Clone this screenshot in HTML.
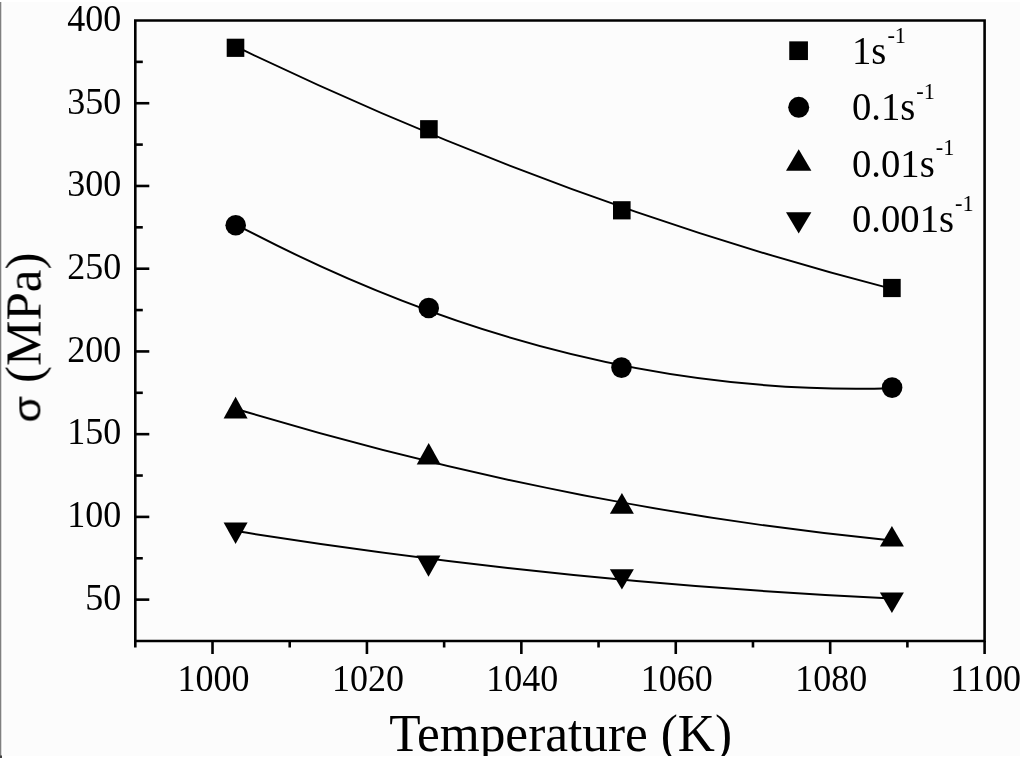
<!DOCTYPE html>
<html><head><meta charset="utf-8"><style>
html,body{margin:0;padding:0;background:#fff;}
svg{display:block;} text{will-change:transform;}
.t{font-family:"Liberation Serif",serif;font-size:36px;fill:#000;}
.tt{font-family:"Liberation Serif",serif;font-size:52px;fill:#000;}
.sig{font-family:"Liberation Sans",sans-serif;fill:#000;}
.lg{font-family:"Liberation Serif",serif;font-size:38px;fill:#000;}
.sup{font-size:22px;}
</style></head><body>
<svg width="1024" height="762" viewBox="0 0 1024 762">
<rect x="0" y="0" width="1024" height="762" fill="#fff"/>
<rect x="3.3" y="2" width="1016.7" height="754" fill="#fcfcfc"/>
<rect x="0" y="2" width="1.3" height="756" fill="#808080"/>
<rect x="0" y="755.5" width="2" height="2.5" fill="#404040"/>
<path d="M235.60,46.47 Q563.75,204.51 891.90,288.82" fill="none" stroke="#000" stroke-width="1.95"/>
<path d="M235.60,224.33 Q563.75,398.19 891.90,388.18" fill="none" stroke="#000" stroke-width="1.95"/>
<path d="M235.60,408.74 Q563.75,508.11 891.90,540.56" fill="none" stroke="#000" stroke-width="1.95"/>
<path d="M235.60,531.08 Q563.75,583.12 891.90,598.45" fill="none" stroke="#000" stroke-width="1.95"/>
<rect x="226.70" y="38.70" width="17.6" height="18.2" fill="#000"/>
<rect x="420.10" y="120.15" width="17.6" height="18.2" fill="#000"/>
<rect x="613.00" y="201.20" width="17.6" height="18.2" fill="#000"/>
<rect x="883.10" y="278.90" width="17.6" height="18.2" fill="#000"/>
<circle cx="235.7" cy="225.3" r="10.3" fill="#000"/>
<circle cx="428.75" cy="308" r="10.3" fill="#000"/>
<circle cx="621.5" cy="367.6" r="10.3" fill="#000"/>
<circle cx="892.1" cy="387.6" r="10.3" fill="#000"/>
<path d="M235.60,396.70 L247.60,418.40 L223.60,418.40Z" fill="#000"/>
<path d="M428.70,442.95 L440.70,464.40 L416.70,464.40Z" fill="#000"/>
<path d="M621.90,493.00 L633.90,513.70 L609.90,513.70Z" fill="#000"/>
<path d="M891.90,525.90 L903.90,546.60 L879.90,546.60Z" fill="#000"/>
<path d="M223.60,522.50 L247.60,522.50 L235.60,544.00Z" fill="#000"/>
<path d="M416.50,555.60 L440.50,555.60 L428.50,576.70Z" fill="#000"/>
<path d="M609.90,569.30 L633.90,569.30 L621.90,589.40Z" fill="#000"/>
<path d="M879.90,592.40 L903.90,592.40 L891.90,612.90Z" fill="#000"/>
<path d="M135.3,20.5 H984.6 V641.0 H135.3 Z" fill="none" stroke="#000" stroke-width="2.6" stroke-linejoin="miter"/>
<line x1="135.3" y1="599.63" x2="149.3" y2="599.63" stroke="#000" stroke-width="2.6"/>
<line x1="135.3" y1="558.27" x2="142.8" y2="558.27" stroke="#000" stroke-width="2.6"/>
<line x1="135.3" y1="516.90" x2="149.3" y2="516.90" stroke="#000" stroke-width="2.6"/>
<line x1="135.3" y1="475.53" x2="142.8" y2="475.53" stroke="#000" stroke-width="2.6"/>
<line x1="135.3" y1="434.17" x2="149.3" y2="434.17" stroke="#000" stroke-width="2.6"/>
<line x1="135.3" y1="392.80" x2="142.8" y2="392.80" stroke="#000" stroke-width="2.6"/>
<line x1="135.3" y1="351.43" x2="149.3" y2="351.43" stroke="#000" stroke-width="2.6"/>
<line x1="135.3" y1="310.07" x2="142.8" y2="310.07" stroke="#000" stroke-width="2.6"/>
<line x1="135.3" y1="268.70" x2="149.3" y2="268.70" stroke="#000" stroke-width="2.6"/>
<line x1="135.3" y1="227.33" x2="142.8" y2="227.33" stroke="#000" stroke-width="2.6"/>
<line x1="135.3" y1="185.97" x2="149.3" y2="185.97" stroke="#000" stroke-width="2.6"/>
<line x1="135.3" y1="144.60" x2="142.8" y2="144.60" stroke="#000" stroke-width="2.6"/>
<line x1="135.3" y1="103.23" x2="149.3" y2="103.23" stroke="#000" stroke-width="2.6"/>
<line x1="135.3" y1="61.87" x2="142.8" y2="61.87" stroke="#000" stroke-width="2.6"/>
<line x1="135.30" y1="641.0" x2="135.30" y2="647.5" stroke="#000" stroke-width="2.6"/>
<line x1="212.51" y1="641.0" x2="212.51" y2="654.0" stroke="#000" stroke-width="2.6"/>
<line x1="289.72" y1="641.0" x2="289.72" y2="647.5" stroke="#000" stroke-width="2.6"/>
<line x1="366.93" y1="641.0" x2="366.93" y2="654.0" stroke="#000" stroke-width="2.6"/>
<line x1="444.14" y1="641.0" x2="444.14" y2="647.5" stroke="#000" stroke-width="2.6"/>
<line x1="521.35" y1="641.0" x2="521.35" y2="654.0" stroke="#000" stroke-width="2.6"/>
<line x1="598.55" y1="641.0" x2="598.55" y2="647.5" stroke="#000" stroke-width="2.6"/>
<line x1="675.76" y1="641.0" x2="675.76" y2="654.0" stroke="#000" stroke-width="2.6"/>
<line x1="752.97" y1="641.0" x2="752.97" y2="647.5" stroke="#000" stroke-width="2.6"/>
<line x1="830.18" y1="641.0" x2="830.18" y2="654.0" stroke="#000" stroke-width="2.6"/>
<line x1="907.39" y1="641.0" x2="907.39" y2="647.5" stroke="#000" stroke-width="2.6"/>
<line x1="984.60" y1="641.0" x2="984.60" y2="654.0" stroke="#000" stroke-width="2.6"/>
<text transform="translate(121.3,609.93) scale(1,1.055)" text-anchor="end" class="t">50</text>
<text transform="translate(121.3,527.20) scale(1,1.055)" text-anchor="end" class="t">100</text>
<text transform="translate(121.3,444.47) scale(1,1.055)" text-anchor="end" class="t">150</text>
<text transform="translate(121.3,361.73) scale(1,1.055)" text-anchor="end" class="t">200</text>
<text transform="translate(121.3,279.00) scale(1,1.055)" text-anchor="end" class="t">250</text>
<text transform="translate(121.3,196.27) scale(1,1.055)" text-anchor="end" class="t">300</text>
<text transform="translate(121.3,113.53) scale(1,1.055)" text-anchor="end" class="t">350</text>
<text transform="translate(121.3,30.80) scale(1,1.055)" text-anchor="end" class="t">400</text>
<text transform="translate(213.51,691) scale(1,1.055)" text-anchor="middle" class="t">1000</text>
<text transform="translate(367.93,691) scale(1,1.055)" text-anchor="middle" class="t">1020</text>
<text transform="translate(522.35,691) scale(1,1.055)" text-anchor="middle" class="t">1040</text>
<text transform="translate(676.76,691) scale(1,1.055)" text-anchor="middle" class="t">1060</text>
<text transform="translate(831.18,691) scale(1,1.055)" text-anchor="middle" class="t">1080</text>
<text transform="translate(985.60,691) scale(1,1.055)" text-anchor="middle" class="t">1100</text>
<text transform="translate(560.6,750.8) scale(0.988,1)" text-anchor="middle" class="tt">Temperature (K)</text>
<text transform="translate(40.5,383) rotate(-90) scale(1.022,1)" class="tt" style="font-size:50px">(MPa)</text>
<text transform="translate(40.9,422.5) rotate(-90) scale(1.0,0.91)" class="sig" style="font-size:43px">σ</text>
<rect x="789.25" y="41.35" width="18.7" height="18.7" fill="#000"/>
<circle cx="798.7" cy="107.3" r="10.5" fill="#000"/>
<path d="M798.7,149.2 L811.4,170.7 L786,170.7Z" fill="#000"/>
<path d="M786,212.2 L811.4,212.2 L798.7,233.4Z" fill="#000"/>
<text transform="translate(852,64.4) scale(1.017,1.08)" class="lg">1s<tspan class="sup" dx="1" dy="-20">-1</tspan></text>
<text transform="translate(852,120.1) scale(1.017,1.08)" class="lg">0.1s<tspan class="sup" dx="1" dy="-20">-1</tspan></text>
<text transform="translate(852,176.8) scale(1.017,1.08)" class="lg">0.01s<tspan class="sup" dx="1" dy="-20">-1</tspan></text>
<text transform="translate(852,232.4) scale(1.017,1.08)" class="lg">0.001s<tspan class="sup" dx="1" dy="-20">-1</tspan></text>
<rect x="2" y="756" width="1022" height="6" fill="#fff"/>
</svg>
</body></html>
